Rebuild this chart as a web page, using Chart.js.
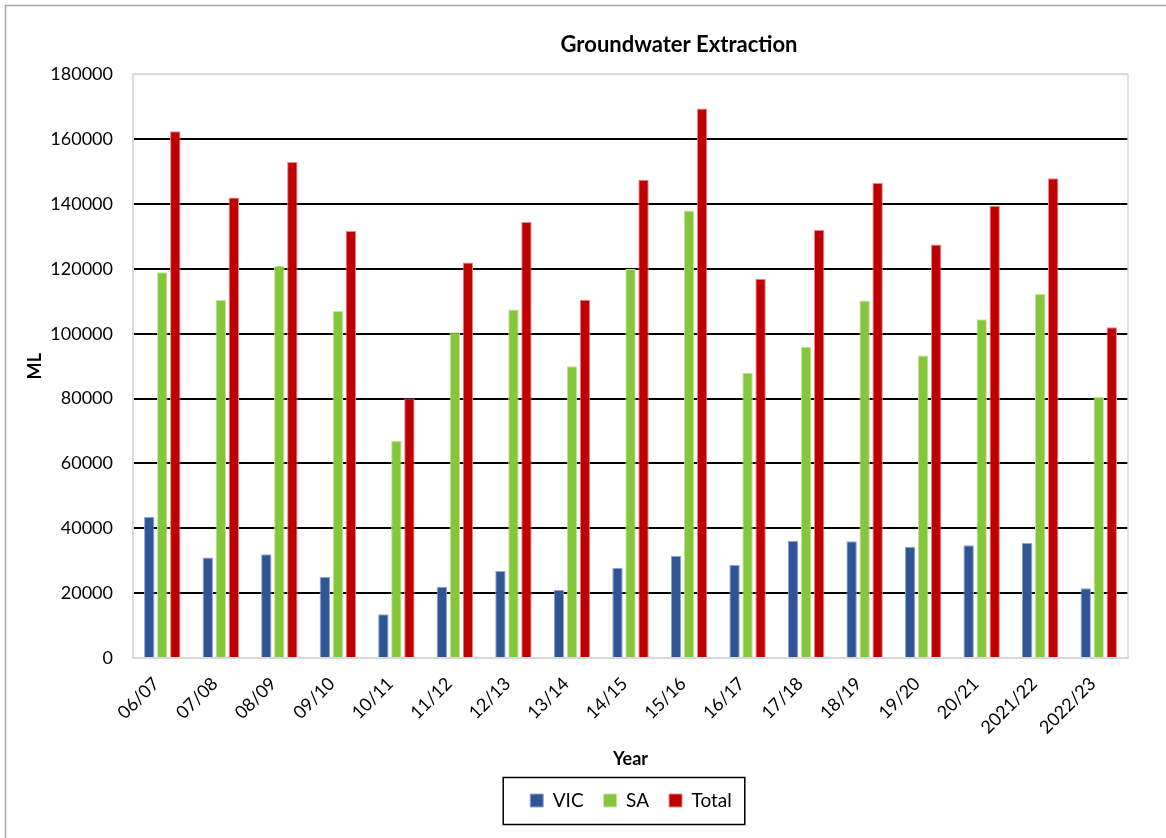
<!DOCTYPE html>
<html>
<head>
<meta charset="utf-8">
<script src="https://cdn.jsdelivr.net/npm/chart.js@4.4.1/dist/chart.umd.min.js"></script>
<style>
  body { margin: 0; background: #fff; }
  #wrap { width: 1166px; height: 838px; position: relative; }
</style>
</head>
<body>
<div id="wrap"><canvas id="gwChart" width="1166" height="838"></canvas></div>
<script>
let years = ['06/07', '07/08', '08/09', '09/10', '10/11', '11/12', '12/13', '13/14', '14/15',
             '15/16', '16/17', '17/18', '18/19', '19/20', '20/21', '2021/22', '2022/23'];
let vicData = [43500, 31000, 32000, 25000, 13500, 22000, 26800, 21000, 27800,
               31500, 28700, 36200, 36000, 34300, 34800, 35500, 21500];
let saData = [119000, 110500, 121000, 107000, 67000, 100500, 107500, 90000, 120000,
              138000, 88000, 96000, 110300, 93300, 104500, 112300, 80500];
let totalData = [162500, 142000, 153000, 131700, 80000, 122000, 134500, 110500, 147500,
                 169500, 117000, 132000, 146500, 127500, 139500, 148000, 102000];
let yTicks = [0, 20000, 40000, 60000, 80000, 100000, 120000, 140000, 160000, 180000];

let fontName = 'Lato, "Noto Sans", sans-serif';
let ctx1 = document.getElementById('gwChart').getContext('2d');

// outer frame, plot border and the box round the legend
let framePlugin = {
    id: 'frames',
    afterLayout(chart) {
        // title and legend sit right of centre in the original
        let tb = chart.titleBlock;
        if (tb) {
            tb.left += 110;
            tb.right += 110;
        }
        let lg = chart.legend;
        if (lg) {
            lg.left += 62;
            lg.right += 62;
        }
    },
    beforeDraw(chart) {
        let c = chart.ctx;
        c.save();
        c.fillStyle = '#fff';
        c.fillRect(0, 0, chart.width, chart.height);
        c.strokeStyle = '#a6a6a6';
        c.lineWidth = 1.5;
        c.strokeRect(5.5, 5.5, chart.width + 20, chart.height + 20);
        c.restore();
    },
    afterDatasetsDraw(chart) {
        let a = chart.chartArea;
        let c = chart.ctx;
        c.save();
        c.strokeStyle = '#d9d9d9';
        c.lineWidth = 1.5;
        c.strokeRect(a.left, a.top, a.right - a.left, a.bottom - a.top);
        c.restore();
    },
    afterDraw(chart) {
        let lg = chart.legend;
        if (!lg || !lg.legendHitBoxes.length) return;
        let boxes = lg.legendHitBoxes;
        let first = boxes[0];
        let last = boxes[boxes.length - 1];
        let c = chart.ctx;
        c.save();
        c.strokeStyle = '#000';
        c.lineWidth = 1.5;
        let left = first.left - 27;
        let right = last.left + last.width + 13;
        let cy = first.top + first.height / 2;
        c.strokeRect(left, cy - 23, right - left, 47);
        c.restore();
    }
};

new Chart(ctx1, {
    type: 'bar',
    data: {
        labels: years,
        datasets: [
            {
                label: 'VIC',
                data: vicData,
                backgroundColor: '#2f5597',
                borderColor: '#8fa7cf',
                borderWidth: 1
            },
            {
                label: 'SA',
                data: saData,
                backgroundColor: '#85c63a',
                borderColor: '#c4e3a0',
                borderWidth: 1
            },
            {
                label: 'Total',
                data: totalData,
                backgroundColor: '#c00000',
                borderColor: '#e08a8a',
                borderWidth: 1
            }
        ]
    },
    options: {
        responsive: false,
        animation: false,
        datasets: {
            bar: {
                categoryPercentage: 0.667,
                barPercentage: 0.8
            }
        },
        layout: {
            padding: { left: 10, right: 38, top: 0, bottom: 18 }
        },
        plugins: {
            title: {
                display: true,
                text: 'Groundwater Extraction',
                color: '#000',
                font: { family: fontName, size: 22, weight: 'bold' },
                padding: { top: 32, bottom: 16 }
            },
            legend: {
                position: 'bottom',
                labels: {
                    color: '#000',
                    font: { family: fontName, size: 19 },
                    boxWidth: 13,
                    boxHeight: 13,
                    padding: 20
                }
            },
            tooltip: { enabled: false }
        },
        scales: {
            x: {
                grid: { display: false },
                border: { color: '#d9d9d9', width: 1.5 },
                ticks: {
                    color: '#000',
                    font: { family: fontName, size: 18 },
                    minRotation: 45,
                    maxRotation: 45,
                    autoSkip: false,
                    labelOffset: -6,
                    padding: 7
                },
                title: {
                    display: true,
                    text: 'Year',
                    color: '#000',
                    font: { family: fontName, size: 18, weight: 'bold' },
                    padding: { top: 4, bottom: 1 }
                },
                afterFit(scale) { scale.height = 113; }
            },
            y: {
                min: 0,
                max: 180000,
                afterBuildTicks(scale) {
                    scale.ticks = yTicks.map(v => ({ value: v }));
                },
                grid: {
                    drawTicks: false,
                    lineWidth: 2,
                    color: c => (c.tick && (c.tick.value === 0 || c.tick.value === 180000)) ? '#d9d9d9' : '#000'
                },
                border: { color: '#d9d9d9', width: 1.5 },
                ticks: {
                    color: '#000',
                    font: { family: fontName, size: 18 },
                    padding: 20,
                    callback: v => String(v)
                },
                title: {
                    display: true,
                    text: 'ML',
                    color: '#000',
                    font: { family: fontName, size: 18, weight: 'bold' },
                    padding: { top: 14, bottom: 4 }
                },
                afterFit(scale) { scale.width = 123; }
            }
        }
    },
    plugins: [framePlugin]
});
</script>
</body>
</html>
